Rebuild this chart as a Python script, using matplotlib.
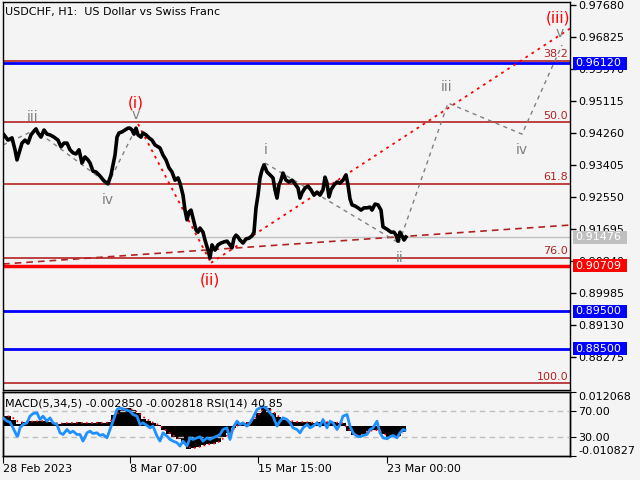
import matplotlib
matplotlib.use('Agg')
import matplotlib.pyplot as plt
from matplotlib.patches import Rectangle
from matplotlib.transforms import blended_transform_factory

# price path (hourly bars, index from left edge)
bar_x = [1, 5, 9, 12, 14, 17, 19, 22, 25, 28, 31, 33, 35, 38, 41, 44, 47, 51, 55, 58,
         61, 64, 67, 70, 73, 76, 79, 82, 85, 87, 90, 93, 97, 101, 105, 108, 110, 112, 114, 116,
         119, 122, 125, 127, 129, 131, 133, 135, 138, 140, 143, 146, 149, 152, 155, 157, 160, 163, 166, 169,
         172, 175, 177, 180, 182, 184, 186, 188, 190, 193, 195, 197, 200, 202, 205, 207, 209, 212, 215, 218,
         221, 224, 227, 229, 231, 233, 235, 237, 240, 243, 246, 249, 251, 253, 255, 257, 259, 261, 264, 267,
         270, 272, 274, 276, 278, 280, 283, 286, 289, 292, 295, 297, 299, 302, 305, 308, 311, 314, 317, 320,
         322, 324, 326, 328, 331, 334, 337, 340, 343, 345, 347, 349, 352, 355, 358, 361, 364, 367, 369, 372,
         375, 378, 380, 382, 385, 388, 391, 393, 395, 397, 399, 401, 403]
close = [0.9421, 0.9407, 0.9413, 0.9381, 0.9354, 0.9381, 0.9399, 0.9407, 0.9399, 0.9421, 0.9431, 0.9437, 0.9426, 0.9415, 0.9434, 0.9423, 0.9421, 0.9415, 0.9407, 0.9389,
         0.9399, 0.9399, 0.9381, 0.9373, 0.9370, 0.9381, 0.9346, 0.9362, 0.9354, 0.9346, 0.9324, 0.9322, 0.9311, 0.9298, 0.9290, 0.9314, 0.9341, 0.9367, 0.9415, 0.9426,
         0.9429, 0.9434, 0.9439, 0.9439, 0.9434, 0.9423, 0.9439, 0.9421, 0.9415, 0.9426, 0.9421, 0.9413, 0.9407, 0.9394, 0.9389, 0.9386, 0.9367, 0.9354, 0.9333, 0.9322,
         0.9300, 0.9306, 0.9292, 0.9260, 0.9220, 0.9194, 0.9215, 0.9220, 0.9199, 0.9167, 0.9161, 0.9172, 0.9161, 0.9140, 0.9113, 0.9092, 0.9127, 0.9113, 0.9127, 0.9132,
         0.9135, 0.9137, 0.9127, 0.9119, 0.9145, 0.9153, 0.9148, 0.9140, 0.9132, 0.9143, 0.9145, 0.9151, 0.9161, 0.9226, 0.9260, 0.9306, 0.9327, 0.9341, 0.9322, 0.9314,
         0.9306, 0.9274, 0.9252, 0.9287, 0.9300, 0.9319, 0.9300, 0.9295, 0.9300, 0.9290, 0.9279, 0.9252, 0.9266, 0.9279, 0.9284, 0.9274, 0.9260, 0.9268, 0.9260, 0.9274,
         0.9308, 0.9292, 0.9255, 0.9274, 0.9287, 0.9295, 0.9292, 0.9300, 0.9314, 0.9287, 0.9250, 0.9234, 0.9231, 0.9226, 0.9220, 0.9226, 0.9226, 0.9228, 0.9220, 0.9236,
         0.9234, 0.9220, 0.9175, 0.9172, 0.9167, 0.9161, 0.9161, 0.9153, 0.9137, 0.9161, 0.9151, 0.9140, 0.9148]

# horizontal levels
fib_levels = [38.2, 50.0, 61.8, 76.0, 100.0]
fib_top, fib_bottom = 1.01502, 0.87580
blue_levels = [0.96120, 0.89500, 0.88500]
red_level = 0.90709
bid = 0.91476

# wave counts
past_wave_x = [0, 32, 105, 133]
past_wave_y = [0.9394, 0.9434, 0.9290, 0.9439]
sub_wave_x = [262, 396]
sub_wave_y = [0.9346, 0.9132]
future_x = [396, 445, 519, 559]
future_y = [0.9132, 0.9506, 0.9423, 0.9661]
red_down_x = [135, 208]
red_down_y = [0.9450, 0.9079]
red_up_x = [208, 567]
red_up_y = [0.9079, 0.9705]
trend_x = [0, 567]
trend_y = [0.9076, 0.9180]

grey_labels = [('iii', 30, 0.9469), ('iv', 105, 0.9247), ('v', 133, 0.9474), ('i', 263, 0.9381),
               ('ii', 397, 0.9092), ('iii', 444, 0.9549), ('iv', 519, 0.9381), ('v', 557, 0.9693)]
red_labels = [('(i)', 133, 0.9506), ('(ii)', 207, 0.9033), ('(iii)', 555, 0.9733)]

price_ticks = [0.97680, 0.96825, 0.95970, 0.95115, 0.94260, 0.93405, 0.92550, 0.91695,
               0.90840, 0.89985, 0.89130, 0.88275]

# MACD histogram / signal (every 5 bars) and RSI
macd_x = list(range(0, 405, 5))
macd = [0.0036, 0.0036, 0.0021, 0.0005, 0.0015, 0.0016, 0.0016, 0.0018, 0.0017, 0.0014,
        0.0009, 0.0007, 0.0010, 0.0011, 0.0009, 0.0012, 0.0010, 0.0011, 0.0010, 0.0012,
        0.0010, 0.0012, 0.0038, 0.0058, 0.0064, 0.0062, 0.0055, 0.0045, 0.0025, 0.0018,
        0.0008, 0.0002, -0.0014, -0.0030, -0.0040, -0.0048, -0.0066, -0.0084, -0.0080, -0.0076,
        -0.0070, -0.0066, -0.0064, -0.0058, -0.0040, -0.0026, -0.0008, 0.0008, 0.0010, 0.0012,
        0.0025, 0.0045, 0.0070, 0.0064, 0.0045, 0.0030, 0.0020, 0.0018, 0.0015, 0.0012,
        0.0013, 0.0012, 0.0011, 0.0013, 0.0012, 0.0014, 0.0012, 0.0011, 0.0008, -0.0020,
        -0.0034, -0.0036, -0.0030, -0.0018, -0.0015, -0.0016, -0.0030, -0.0042, -0.0042, -0.0038,
        -0.0022]
signal = [0.0030, 0.0034, 0.0028, 0.0015, 0.0012, 0.0014, 0.0015, 0.0016, 0.0017, 0.0015,
          0.0011, 0.0008, 0.0008, 0.0010, 0.0010, 0.0011, 0.0010, 0.0010, 0.0010, 0.0011,
          0.0010, 0.0011, 0.0025, 0.0045, 0.0058, 0.0061, 0.0057, 0.0048, 0.0032, 0.0021,
          0.0011, 0.0004, -0.0008, -0.0022, -0.0034, -0.0044, -0.0058, -0.0076, -0.0080, -0.0077,
          -0.0072, -0.0067, -0.0064, -0.0060, -0.0046, -0.0032, -0.0014, 0.0002, 0.0008, 0.0010,
          0.0020, 0.0036, 0.0060, 0.0064, 0.0050, 0.0035, 0.0024, 0.0019, 0.0016, 0.0013,
          0.0013, 0.0012, 0.0011, 0.0012, 0.0012, 0.0013, 0.0012, 0.0011, 0.0009, -0.0010,
          -0.0028, -0.0034, -0.0031, -0.0021, -0.0016, -0.0016, -0.0025, -0.0038, -0.0041, -0.0039,
          -0.0026]
rsi_x = [0, 4, 7, 10, 14, 15, 17, 20, 24, 27, 30, 34, 37, 40, 44, 47, 50, 54, 57, 60,
         64, 67, 70, 74, 77, 80, 84, 87, 90, 94, 97, 100, 104, 107, 110, 114, 117, 120, 124, 127,
         130, 134, 137, 140, 144, 147, 150, 154, 157, 160, 164, 167, 170, 174, 177, 180, 184, 187, 190, 194,
         197, 200, 204, 207, 210, 214, 217, 220, 224, 227, 230, 234, 237, 240, 244, 247, 250, 254, 257, 260,
         264, 267, 270, 274, 277, 280, 284, 287, 290, 294, 297, 300, 304, 307, 310, 314, 317, 320, 324, 327,
         330, 334, 337, 340, 344, 347, 350, 354, 357, 360, 364, 367, 370, 374, 377, 380, 384, 387, 390, 394,
         397, 400, 402]
rsi = [59.6, 54.4, 52.8, 44.0, 31.0, 32.1, 44.0, 49.2, 51.8, 62.2, 66.3, 67.4, 57.0, 62.2, 54.4, 59.6, 51.8, 49.2, 36.2, 33.6,
       41.4, 36.2, 38.8, 33.6, 33.6, 23.3, 36.2, 38.8, 35.2, 36.2, 32.1, 33.6, 28.4, 41.4, 54.4, 72.5, 75.1, 73.6, 71.5, 69.9,
       64.8, 62.2, 49.2, 51.8, 47.6, 44.0, 46.6, 31.0, 23.3, 36.2, 31.0, 25.8, 23.3, 20.7, 15.5, 23.3, 15.5, 28.4, 25.8, 28.4,
       30.0, 23.3, 28.4, 25.8, 28.4, 31.0, 33.6, 41.4, 44.0, 25.8, 44.0, 54.4, 49.2, 51.8, 46.6, 51.8, 59.6, 72.5, 75.1, 77.7,
       73.6, 67.4, 62.2, 46.6, 54.4, 59.6, 57.0, 51.8, 44.0, 41.4, 36.2, 44.0, 49.2, 44.0, 46.6, 51.8, 46.6, 57.0, 44.0, 54.4,
       51.8, 41.4, 49.2, 62.2, 64.8, 46.6, 36.2, 31.0, 30.0, 32.1, 33.6, 41.4, 44.0, 54.4, 36.2, 28.4, 26.9, 30.0, 32.1, 28.4,
       36.2, 41.4, 40.4]

time_ticks = [0, 127, 255, 384]
time_labels = ['28 Feb 2023', '8 Mar 07:00', '15 Mar 15:00', '23 Mar 00:00']

bg = '#f4f4f4'
fib_color = '#b22222'
plt.rcParams['font.family'] = 'DejaVu Sans'

fig = plt.figure(figsize=(6.4, 4.8), dpi=100, facecolor=bg)
ax = fig.add_axes([3/640, 90/480, 567/640, 388/480])
ax.set_facecolor(bg)
ax.set_xlim(0, 567)
ax.set_ylim(0.87393, 0.97760)

for lv in fib_levels:
    p = fib_top - lv / 100 * (fib_top - fib_bottom)
    ax.axhline(p, color=fib_color, lw=1.2, zorder=1)
    ax.text(565, p + 0.0004, '%.1f' % lv, color=fib_color, fontsize=8, ha='right', va='bottom')
for p in blue_levels:
    ax.axhline(p, color='#0000ff', lw=2, zorder=1.5)
ax.axhline(red_level, color='#ff0000', lw=2.5, zorder=1.5)
ax.axhline(bid, color='#c0c0c0', lw=1, zorder=1)

ax.plot(trend_x, trend_y, color=fib_color, lw=1.2, ls=(0, (4, 3)), zorder=2)
ax.plot(red_down_x, red_down_y, color='#ff0000', lw=1.3, ls=(0, (1.5, 2.5)), zorder=2)
ax.plot(red_up_x, red_up_y, color='#ff0000', lw=1.3, ls=(0, (1.5, 2.5)), zorder=2)
ax.plot(past_wave_x, past_wave_y, color='#808080', lw=1, ls=(0, (3, 3)), zorder=2)
ax.plot(sub_wave_x, sub_wave_y, color='#808080', lw=1, ls=(0, (3, 3)), zorder=2)
ax.plot(future_x, future_y, color='#808080', lw=1, ls=(0, (3, 3)), zorder=2)

ax.plot(bar_x, close, color='black', lw=2.6, zorder=3)

for s, x, y in grey_labels:
    ax.text(x, y, s, color='#808080', fontsize=10, ha='center', va='center', zorder=4)
for s, x, y in red_labels:
    ax.text(x, y, s, color='#ff0000', fontsize=11, ha='center', va='center', zorder=4)

ax.set_xticks([])
ax.yaxis.tick_right()
ax.set_yticks(price_ticks)
ax.set_yticklabels(['%.5f' % v for v in price_ticks])
ax.tick_params(axis='y', direction='out', length=4, width=1, pad=2, labelsize=8, colors='black')
for sp in ax.spines.values():
    sp.set_color('black')
    sp.set_linewidth(1)

trans = blended_transform_factory(fig.transFigure, ax.transData)
h = 13 * 0.0002672
for p, c in [(0.96120, '#0000ff'), (bid, '#c0c0c0'), (red_level, '#ff0000'),
             (0.89500, '#0000ff'), (0.88500, '#0000ff')]:
    ax.add_patch(Rectangle((573/640, p - h/2), 54/640, h, transform=trans,
                           facecolor=c, edgecolor='none', clip_on=False, zorder=5))
    ax.text(575/640, p, '%.5f' % p, transform=trans, color='white', fontsize=8,
            va='center', ha='left', clip_on=False, zorder=6)

fig.text(5/640, 1 - 12/480, 'USDCHF, H1:  US Dollar vs Swiss Franc', fontsize=8, va='center')

# indicator window
ax2 = fig.add_axes([3/640, 24/480, 567/640, 64/480])
ax2.set_facecolor(bg)
ax2.set_xlim(0, 567)
ax2.set_ylim(-0.010827, 0.012068)
ax2.bar(macd_x, macd, width=5, color='black', zorder=2)
ax2.plot(macd_x, signal, color='#ff0000', lw=1.2, ls=(0, (1, 2)), zorder=3)
ax2.set_xticks(time_ticks)
ax2.set_xticklabels(time_labels, ha='left')
ax2.tick_params(axis='x', direction='out', length=5, pad=1, labelsize=8)

ax3 = ax2.twinx()
ax3.set_ylim(0, 100)
ax3.axhline(70, color='#c0c0c0', lw=1, ls=(0, (4, 3)), zorder=1)
ax3.axhline(30, color='#c0c0c0', lw=1, ls=(0, (4, 3)), zorder=1)
ax3.plot(rsi_x, rsi, color='#1e90ff', lw=2, zorder=4)
ax3.set_yticks([70, 30])
ax3.set_yticklabels(['70.00', '30.00'])
ax3.tick_params(axis='y', direction='out', length=4, pad=2, labelsize=8)

ax2.yaxis.tick_right()
ax2.set_yticks([0.012068, -0.010827])
ax2.set_yticklabels(['0.012068', '-0.010827'])
ax2.tick_params(axis='y', direction='out', length=4, pad=2, labelsize=8)
lbls = ax2.get_yticklabels()
lbls[0].set_va('top')
lbls[1].set_va('bottom')
for a in (ax2, ax3):
    for sp in a.spines.values():
        sp.set_color('black')
        sp.set_linewidth(1)

fig.text(5/640, 1 - 403/480, 'MACD(5,34,5) -0.002850 -0.002818 RSI(14) 40.85', fontsize=8, va='center')

fig.savefig('out.png', dpi=100, facecolor=bg)
